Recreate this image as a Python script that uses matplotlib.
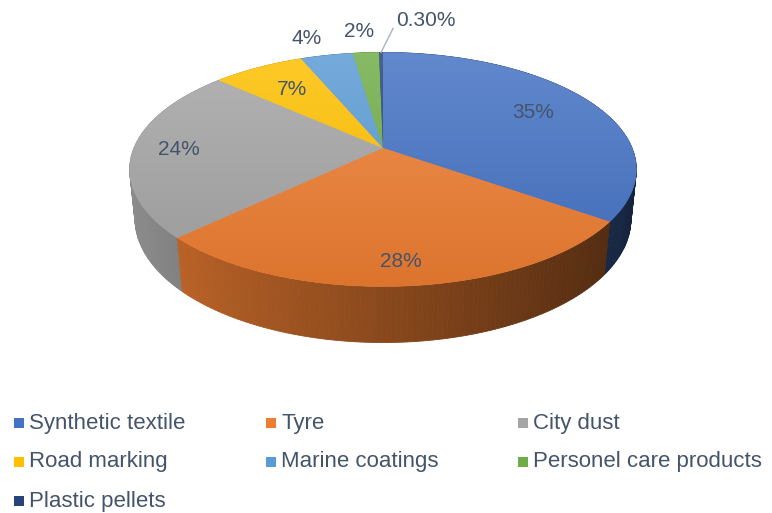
"""
3D-looking pie of microplastic sources, drawn with plain matplotlib patches.
"""
import numpy as np
import matplotlib.pyplot as plt
from matplotlib.patches import Polygon, Rectangle
from matplotlib.colors import to_rgb

categories = ['Synthetic textile', 'Tyre', 'City dust', 'Road marking',
              'Marine coatings', 'Personel care products', 'Plastic pellets']
shares = [35, 28, 24, 7, 4, 2, 0.3]
pct_labels = ['35%', '28%', '24%', '7%', '4%', '2%', '0.30%']
colors = ['#4472C4', '#ED7D31', '#A5A5A5', '#FFC000', '#5B9BD5', '#70AD47', '#264478']

# view / layout (pixels of the 772x513 picture)
W, H = 772, 513
CX, CY = 383, 148          # centre of the pie top in pixels
R_PX = 249.0               # radius scale in pixels
ELEV = np.radians(27)
DIST = 4.86
THICK = 0.225
label_r = [0.72, 0.85, 0.82, 0.70, 1.22, 1.25]
label_nudge = [(0, 0), (0, 0), (0, 0), (0, 0), (-10, 0), (-3, 2)]
TXT = '#44546A'

plt.rcParams['font.family'] = ['Liberation Sans', 'DejaVu Sans']


def project(theta, r=1.0, y=0.0):
    '''theta clockwise from 12 o'clock, returns x, y in radius units'''
    X = r * np.sin(theta)
    Z = r * np.cos(theta)
    yc = y * np.cos(ELEV) + Z * np.sin(ELEV)
    d = Z * np.cos(ELEV) - y * np.sin(ELEV)
    s = DIST / (DIST + d)
    return X * s, yc * s


def shade(c, f):
    return tuple(np.clip(np.array(to_rgb(c)) * f, 0, 1))


def mix(c, other, t):
    return tuple(np.array(to_rgb(c)) * (1 - t) + np.array(to_rgb(other)) * t)


fig = plt.figure(figsize=(W / 100, H / 100), dpi=100)
ax = fig.add_axes([0, 0, 1, 1])
ax.axis('off')

edges = np.cumsum([0] + shares) / sum(shares) * 2 * np.pi

# outer walls, back to front
quads = []
for i, col in enumerate(colors):
    a, b = edges[i], edges[i + 1]
    n = max(2, int(np.degrees(b - a)) + 2)
    th = np.linspace(a, b, n)
    for t1, t2 in zip(th[:-1], th[1:]):
        pts = [project(t1), project(t2), project(t2, y=-THICK), project(t1, y=-THICK)]
        tm = 0.5 * (t1 + t2)
        f = 0.58 - 0.28 * np.sin(tm)
        quads.append((np.cos(tm), pts, shade(col, f)))
quads.sort(key=lambda q: -q[0])
for z, pts, c in quads:
    ax.add_patch(Polygon(pts, closed=True, facecolor=c, edgecolor=c, lw=0.6))

# top faces with a vertical gradient
y_back = project(0.0)[1]
y_front = project(np.pi)[1]
for i, col in enumerate(colors):
    a, b = edges[i], edges[i + 1]
    n = max(2, int(np.degrees(b - a) * 2) + 2)
    th = np.linspace(a, b, n)
    pts = [(0.0, 0.0)] + [project(t) for t in th]
    c_top = mix(col, 'white', 0.16)
    c_bot = shade(col, 0.93)
    base = Polygon(pts, closed=True, facecolor=mix(c_top, c_bot, 0.5),
                   edgecolor=mix(c_top, c_bot, 0.5), lw=0.4)
    ax.add_patch(base)
    clip = Polygon(pts, closed=True, fill=False, edgecolor='none')
    ax.add_patch(clip)
    t = np.linspace(0, 1, 128)[:, None]
    grad = np.array(c_bot)[None, :] * (1 - t) + np.array(c_top)[None, :] * t
    ax.imshow(grad[:, None, :], extent=(-1.2, 1.2, y_front, y_back),
              origin='lower', aspect='auto', interpolation='bilinear',
              clip_path=clip, zorder=2)

# percentage labels
for i, lab in enumerate(pct_labels[:-1]):
    mid = 0.5 * (edges[i] + edges[i + 1])
    x, y = project(mid, r=label_r[i])
    dx, dy = label_nudge[i]
    ax.text(x + dx / R_PX, y + dy / R_PX, lab, ha='center', va='center',
            fontsize=15, color=TXT, zorder=5)

# small slice: leader line
mid = 0.5 * (edges[-2] + edges[-1])
x0, y0 = project(mid, r=1.0)
x1, y1 = x0 + 12 / R_PX, y0 + 24 / R_PX
ax.plot([x0, x1], [y0, y1], color='#A6B4C8', lw=1.0, zorder=5)
ax.text(x1 + 3 / R_PX, y1 - 2 / R_PX, pct_labels[-1], ha='left', va='bottom',
        fontsize=15, color=TXT, zorder=5)

ax.set_xlim(-CX / R_PX, (W - CX) / R_PX)
ax.set_ylim(-(H - CY) / R_PX, CY / R_PX)

# legend, filled row by row like the original
for i, (name, col) in enumerate(zip(categories, colors)):
    row, cl = divmod(i, 3)
    lx = 14 + cl * 252
    ly = H - (423 + row * 39)
    fig.add_artist(Rectangle(((lx) / W, (ly - 5) / H), 10 / W, 10 / H,
                             transform=fig.transFigure, facecolor=col,
                             edgecolor='none'))
    fig.text((lx + 15) / W, ly / H, name, ha='left', va='center',
             fontsize=16, color=TXT)

fig.savefig('out.png', dpi=100)
